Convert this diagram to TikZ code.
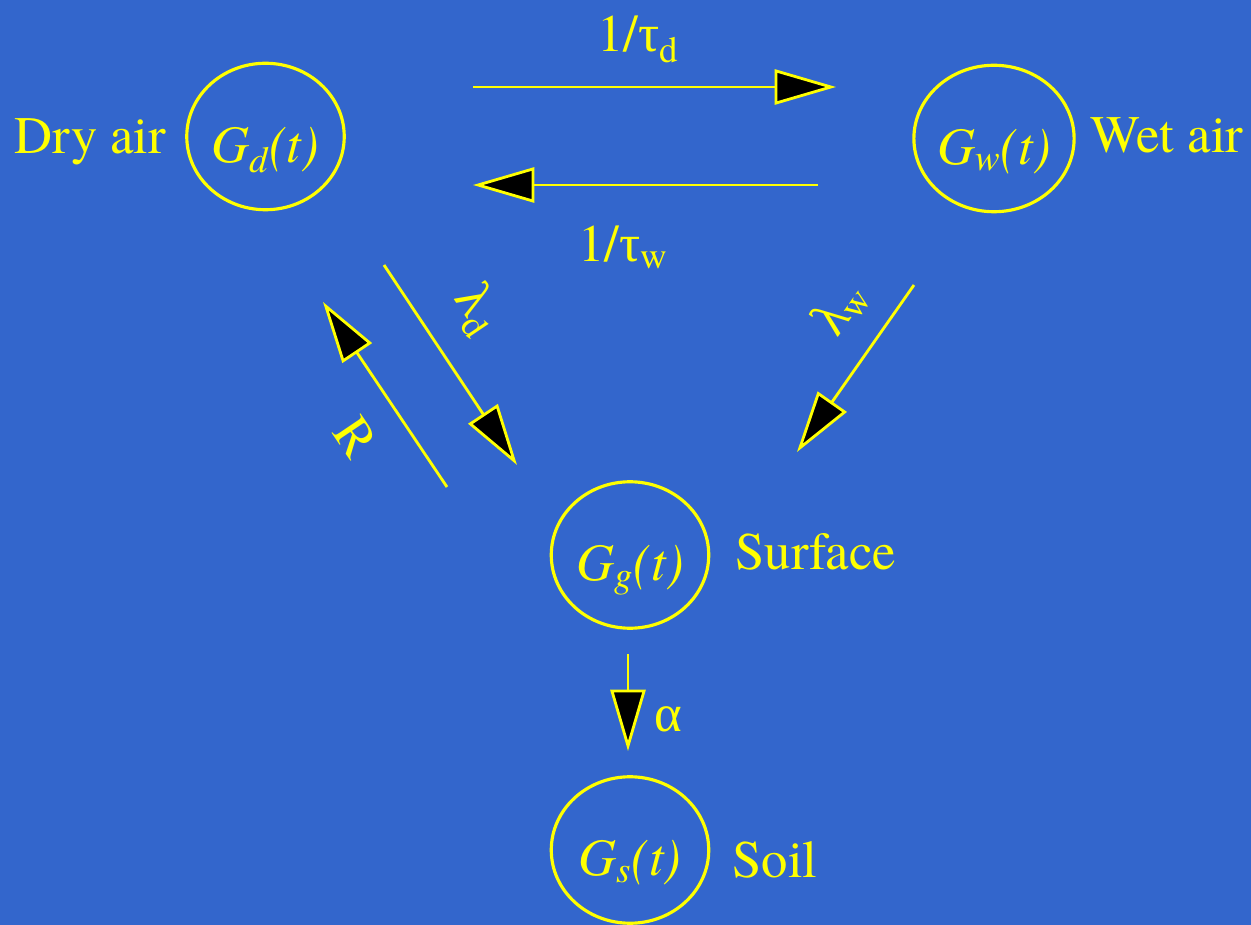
\documentclass[tikz,border=0pt]{standalone}
\usepackage{fontspec}
\setmainfont{TeX Gyre Termes}
\newfontfamily\greekfont{Liberation Serif}
\usetikzlibrary{arrows.meta,shapes.geometric}
\definecolor{bg}{HTML}{3366CC}
\definecolor{yel}{HTML}{FFFF00}
\tikzset{
  pool/.style={draw=yel,line width=1.8pt,ellipse,inner sep=0pt,
    minimum width=3.15cm,minimum height=2.93cm,text=yel,
    font=\rmfamily\fontsize{30}{36}\selectfont\itshape,text height=36pt,text depth=6.6pt},
  poolname/.style={font=\rmfamily\fontsize{30}{36}\selectfont,text=yel,inner sep=0pt},
  flow/.style={-{Triangle[length=35pt,width=20pt,fill=black]},line width=1.6pt,draw=yel},
  rate/.style={font=\rmfamily\fontsize{30}{36}\selectfont,text=yel,inner sep=0pt}
}

\begin{document}
\begin{tikzpicture}[x=0.02cm,y=-0.02cm]
  \fill[bg] (0,0) rectangle (1251,925);
  \useasboundingbox (0,0) rectangle (1251,925);

  % reservoirs
  \node[pool] (gd) at (265.5,136.5) {G\textsubscript{d}(t)};
  \node[pool] (gw) at (994,138.5) {G\textsubscript{w}(t)};
  \node[pool] (gg) at (630,555) {G\textsubscript{g}(t)};
  \node[pool] (gs) at (630,850) {G\textsubscript{s}(t)};

  \node[poolname,anchor=base west] (dry) at (14,154) {Dry air};
  \node[poolname,anchor=base west] (wet) at (1090,153) {Wet air};
  \node[poolname,anchor=base west] (surf) at (735,570) {Surface};
  \node[poolname,anchor=base west] (soil) at (732,877) {Soil};

  % arrow ends
  \coordinate (tdA) at (473,87);  \coordinate (tdB) at (836,87);
  \coordinate (twA) at (818,185); \coordinate (twB) at (473,185);
  \coordinate (ldA) at (384,265); \coordinate (ldB) at (517,465);
  \coordinate (rA) at (447,487);  \coordinate (rB) at (323,302);
  \coordinate (lwA) at (914,285); \coordinate (lwB) at (797,452);
  \coordinate (alA) at (628,654); \coordinate (alB) at (628,751);

  \draw[flow] (tdA) -- (tdB);
  \draw[flow] (twA) -- (twB);
  \draw[flow] (ldA) -- (ldB);
  \draw[flow] (rA) -- (rB);
  \draw[flow] (lwA) -- (lwB);
  \draw[flow] (alA) -- (alB);

  \node[rate,anchor=base west] (taud) at (597,52) {1/{\greekfont τ}\textsubscript{d}};
  \node[rate,anchor=base west] (tauw) at (578,262) {1/{\greekfont τ}\textsubscript{w}};
  \node[rate,rotate=-56] (lamd) at (477,310) {{\greekfont λ}\textsubscript{d}};
  \node[rate,rotate=-56] (rr) at (356,437) {R};
  \node[rate,rotate=55] (lamw) at (840,308) {{\greekfont λ}\textsubscript{w}};
  \node[rate,anchor=base west] (al) at (654,731) {\greekfont α};
\end{tikzpicture}
\end{document}
